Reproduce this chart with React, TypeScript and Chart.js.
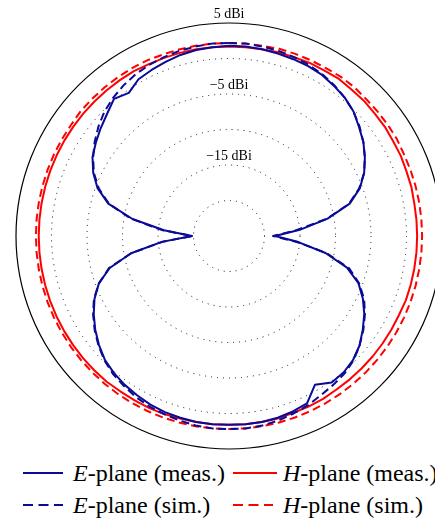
import React, { useEffect, useRef } from "react";
import { Chart, registerables } from "chart.js";

Chart.register(...registerables);

// Angles in degrees, clockwise from the top (0° = up)
const ANGLES = [
  0, 5, 10, 15, 20, 25, 30, 35, 40, 45, 50, 55, 60, 65, 70, 75, 80, 85,
  90, 95, 100, 105, 110, 115, 120, 125, 130, 135, 140, 145, 150, 155, 160, 165, 170, 175,
  180, 185, 190, 195, 200, 205, 210, 215, 220, 225, 230, 235, 240, 245, 250, 255, 260, 265,
  270, 275, 280, 285, 290, 295, 300, 305, 310, 315, 320, 325, 330, 335, 340, 345, 350, 355,
];

// Gain values in dBi
const E_MEAS = [
  1.8, 1.8, 1.7, 1.6, 1.5, 1.4, 1.2, 0.8, 0.4, -0.2, -1.1, -1.9, -2.9, -4.0, -5.4, -7.4, -10.9, -15.0,
  -18.5, -15.2, -11.2, -7.8, -5.6, -4.2, -3.0, -2.0, -1.0, -0.3, 0.1, 0.2, -0.8, 1.0, 1.3, 1.5, 1.6, 1.6,
  1.6, 1.6, 1.6, 1.5, 1.4, 1.2, 0.9, 0.6, 0.2, -0.3, -1.1, -2.0, -3.0, -4.1, -5.5, -7.6, -11.0, -15.5,
  -19.8, -15.8, -11.2, -7.4, -5.3, -3.9, -2.8, -2.1, -1.4, -0.7, 0.2, -0.4, 0.5, 0.8, 1.1, 1.4, 1.6, 1.7,
];

const E_SIM = [
  2.2, 2.2, 2.1, 2.0, 1.8, 1.6, 1.3, 0.9, 0.4, -0.2, -1.0, -1.9, -2.9, -4.0, -5.5, -7.5, -11.0, -15.4,
  -18.8, -15.4, -11.0, -7.5, -5.5, -4.0, -2.9, -1.9, -1.0, -0.2, 0.3, 0.6, 0.9, 1.3, 1.6, 1.9, 2.1, 2.2,
  2.2, 2.2, 2.1, 1.9, 1.7, 1.5, 1.2, 0.8, 0.4, -0.2, -1.0, -1.9, -2.9, -4.0, -5.5, -7.5, -11.0, -15.6,
  -19.8, -15.6, -11.0, -7.5, -5.5, -4.0, -2.9, -1.9, -1.0, -0.2, 0.4, 0.9, 1.3, 1.6, 1.8, 2.0, 2.1, 2.2,
];

const H_MEAS = [
  1.7, 1.7, 1.7, 1.8, 1.8, 1.9, 1.9, 2.0, 1.9, 1.9, 1.8, 1.8, 1.7, 1.7, 1.6, 1.6, 1.5, 1.5,
  1.5, 1.5, 1.5, 1.5, 1.5, 1.4, 1.4, 1.4, 1.4, 1.4, 1.4, 1.4, 1.5, 1.5, 1.5, 1.6, 1.6, 1.6,
  1.6, 1.6, 1.6, 1.6, 1.7, 1.7, 1.7, 1.7, 1.8, 1.8, 1.8, 1.8, 1.8, 1.8, 1.8, 1.8, 1.8, 1.8,
  1.8, 1.8, 1.8, 1.8, 1.8, 1.8, 1.8, 1.8, 1.8, 1.8, 1.8, 1.8, 1.8, 1.7, 1.7, 1.7, 1.7, 1.7,
];

const H_SIM = [
  2.2, 2.2, 2.2, 2.3, 2.3, 2.3, 2.3, 2.4, 2.4, 2.3, 2.3, 2.3, 2.3, 2.2, 2.2, 2.2, 2.2, 2.2,
  2.2, 2.2, 2.2, 2.2, 2.2, 2.2, 2.2, 2.2, 2.2, 2.2, 2.2, 2.2, 2.2, 2.2, 2.2, 2.2, 2.2, 2.2,
  2.2, 2.2, 2.2, 2.2, 2.2, 2.2, 2.2, 2.2, 2.2, 2.2, 2.2, 2.2, 2.2, 2.2, 2.2, 2.2, 2.2, 2.2,
  2.2, 2.2, 2.2, 2.2, 2.2, 2.2, 2.2, 2.2, 2.3, 2.3, 2.3, 2.3, 2.3, 2.3, 2.2, 2.2, 2.2, 2.2,
];

const R_MIN = -25;
const R_MAX = 5;
const R_STEP = 5;
const RING_LABELS = [5, -5, -15];

const SERIES_NAMES = ["E-plane (meas.)", "E-plane (sim.)", "H-plane (meas.)", "H-plane (sim.)"];

const BLUE = "rgb(10,10,150)";
const RED = "rgb(255,0,0)";
const SERIF = '"Liberation Serif", "Times New Roman", serif';

const ringLabelPlugin = {
  id: "ringLabels",
  afterDraw(chart: any) {
    const s = chart.scales.r;
    const ctx = chart.ctx;
    ctx.save();
    ctx.font = `14px ${SERIF}`;
    ctx.fillStyle = "#000";
    ctx.textAlign = "center";
    ctx.textBaseline = "alphabetic";
    RING_LABELS.forEach((v) => {
      const d = s.getDistanceFromCenterForValue(v);
      const label = (v < 0 ? "\u2212" + Math.abs(v) : String(v)) + " dBi";
      ctx.fillText(label, s.xCenter, s.yCenter - d - 5);
    });
    ctx.restore();
  },
};

function LegendSample({ color, dashed, left, top, width }: any) {
  return (
    <svg
      width={width}
      height={10}
      style={{ position: "absolute", left, top: top - 5, overflow: "visible" }}
    >
      <line
        x1={0}
        y1={5}
        x2={width}
        y2={5}
        stroke={color}
        strokeWidth={2}
        strokeDasharray={dashed ? "10 5.5" : undefined}
      />
    </svg>
  );
}

function LegendText({ left, top, italic, rest }: any) {
  return (
    <div
      style={{
        position: "absolute",
        left,
        top: top - 14,
        height: 28,
        lineHeight: "28px",
        fontSize: 24,
        fontFamily: SERIF,
        whiteSpace: "nowrap",
        color: "#000",
      }}
    >
      <i>{italic}</i>
      {rest}
    </div>
  );
}

export default function App() {
  const canvasRef = useRef<HTMLCanvasElement | null>(null);

  useEffect(() => {
    const canvas = canvasRef.current;
    if (!canvas) return;
    const chart = new Chart(canvas, {
      type: "radar",
      data: {
        labels: ANGLES.map(String),
        datasets: [
          { label: SERIES_NAMES[0], data: E_MEAS, borderColor: BLUE, borderWidth: 2, pointRadius: 0, fill: false, order: 0 },
          { label: SERIES_NAMES[1], data: E_SIM, borderColor: BLUE, borderWidth: 2, borderDash: [8, 4.5], pointRadius: 0, fill: false, order: 1 },
          { label: SERIES_NAMES[2], data: H_MEAS, borderColor: RED, borderWidth: 2, pointRadius: 0, fill: false, order: 2 },
          { label: SERIES_NAMES[3], data: H_SIM, borderColor: RED, borderWidth: 2, borderDash: [8, 4.5], pointRadius: 0, fill: false, order: 3 },
        ],
      },
      options: {
        responsive: false,
        animation: false,
        layout: { padding: { left: 8, top: 15, right: 2, bottom: 4 } },
        elements: { line: { tension: 0, borderJoinStyle: "round" } },
        plugins: { legend: { display: false }, tooltip: { enabled: false } },
        scales: {
          r: {
            min: R_MIN,
            max: R_MAX,
            startAngle: 0,
            ticks: { display: false, stepSize: R_STEP },
            angleLines: { display: false },
            pointLabels: { display: false },
            grid: {
              circular: true,
              color: (c: any) => {
                const v = c.tick?.value;
                if (v === R_MAX) return "#000";
                if (v === R_MIN) return "rgba(0,0,0,0)";
                return "#111";
              },
              lineWidth: (c: any) => (c.tick?.value === R_MAX ? 1.2 : 1),
            },
            border: {
              dash: (c: any) => (c.tick?.value === R_MAX ? [] : [1, 5]),
            },
          },
        },
      } as any,
      plugins: [ringLabelPlugin],
    });
    return () => chart.destroy();
  }, []);

  return (
    <div style={{ position: "relative", width: 436, height: 510 }}>
      <canvas ref={canvasRef} width={436} height={445} style={{ position: "absolute", left: 0, top: 0 }} />
      <LegendSample color={BLUE} dashed={false} left={15} top={465} width={40} />
      <LegendText left={65} top={465} italic="E" rest="-plane (meas.)" />
      <LegendSample color={RED} dashed={false} left={225} top={465} width={44} />
      <LegendText left={275} top={465} italic="H" rest="-plane (meas.)" />
      <LegendSample color={BLUE} dashed={true} left={15} top={497} width={40} />
      <LegendText left={65} top={497} italic="E" rest="-plane (sim.)" />
      <LegendSample color={RED} dashed={true} left={225} top={497} width={40} />
      <LegendText left={275} top={497} italic="H" rest="-plane (sim.)" />
    </div>
  );
}
